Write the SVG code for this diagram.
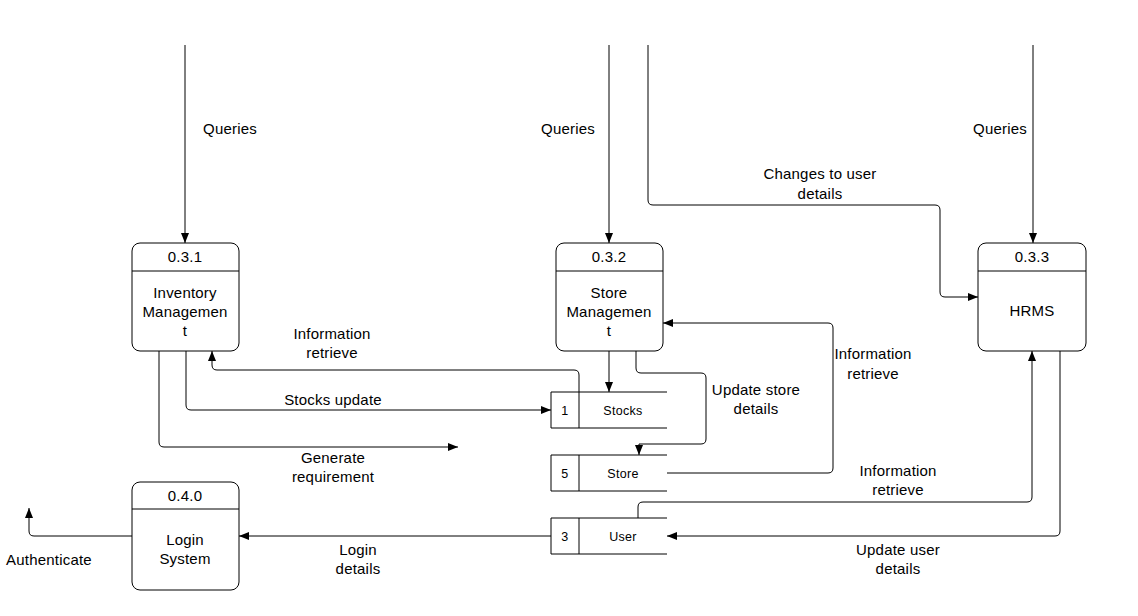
<svg xmlns="http://www.w3.org/2000/svg" width="1138" height="616" viewBox="0 0 1138 616">
<style>
text{font-family:"Liberation Sans",Arial,sans-serif;font-size:15px;letter-spacing:0.2px;fill:#000;text-anchor:middle}
.s{font-size:12.5px;letter-spacing:0.3px}
.n{fill:#fff;stroke:#000;stroke-width:1}
.l{fill:none;stroke:#000;stroke-width:1}
.c{fill:none;stroke:#000;stroke-width:1;marker-end:url(#a)}
</style>
<defs>
<marker id="a" viewBox="0 0 10 8" refX="10" refY="4" markerWidth="10" markerHeight="8" markerUnits="userSpaceOnUse" orient="auto">
<path d="M0,0 L10,4 L0,8 Z" fill="#000"/>
</marker>
</defs>
<rect width="1138" height="616" fill="#fff"/>
<g id="connectors">
<path class="c" d="M185,45 V243"/>
<path class="c" d="M609,45 V243"/>
<path class="c" d="M1033,45 V243"/>
<path class="c" d="M648,45 V200 Q648,205 653,205 H935 Q940,205 940,210 V292 Q940,297 945,297 H978"/>
<path class="c" d="M579,392 V375 Q579,370 574,370 H217 Q212,370 212,365 V351"/>
<path class="c" d="M186,351 V405 Q186,410 191,410 H551"/>
<path class="c" d="M159,351 V442 Q159,447 164,447 H458"/>
<path class="c" d="M609,351 V392"/>
<path class="c" d="M636,351 V368 Q636,373 641,373 H701 Q706,373 706,378 V439 Q706,444 701,444 H639 V455"/>
<path class="c" d="M667,473 H828 Q833,473 833,468 V328 Q833,323 828,323 H663"/>
<path class="c" d="M638,518 V507 Q638,502 643,502 H1027 Q1032,502 1032,497 V351"/>
<path class="c" d="M1060,351 V531 Q1060,536 1055,536 H667"/>
<path class="c" d="M551,536 H239"/>
<path class="c" d="M132,536 H34 Q29,536 29,531 V508"/>
</g>
<g id="labels">
<text x="230" y="134">Queries</text>
<text x="568" y="134">Queries</text>
<text x="1000" y="134">Queries</text>
<text x="820" y="179">Changes to user</text>
<text x="820" y="199">details</text>
<text x="332" y="339">Information</text>
<text x="332" y="358">retrieve</text>
<text x="333" y="405">Stocks update</text>
<text x="333" y="463">Generate</text>
<text x="333" y="482">requirement</text>
<text x="756" y="395">Update store</text>
<text x="756" y="414">details</text>
<text x="873" y="359">Information</text>
<text x="873" y="379">retrieve</text>
<text x="898" y="476">Information</text>
<text x="898" y="495">retrieve</text>
<text x="898" y="555">Update user</text>
<text x="898" y="574">details</text>
<text x="358" y="555">Login</text>
<text x="358" y="574">details</text>
<text x="49" y="565">Authenticate</text>
</g>
<g id="node-031">
<rect class="n" x="132" y="243" width="107" height="108" rx="8"/>
<line class="l" x1="132" y1="271" x2="239" y2="271"/>
<text x="185" y="262">0.3.1</text>
<text x="185" y="298">Inventory</text>
<text x="185" y="317">Managemen</text>
<text x="185" y="336">t</text>
</g>
<g id="node-032">
<rect class="n" x="556" y="243" width="107" height="108" rx="8"/>
<line class="l" x1="556" y1="271" x2="663" y2="271"/>
<text x="609" y="262">0.3.2</text>
<text x="609" y="298">Store</text>
<text x="609" y="317">Managemen</text>
<text x="609" y="336">t</text>
</g>
<g id="node-033">
<rect class="n" x="978" y="243" width="108" height="108" rx="8"/>
<line class="l" x1="978" y1="271" x2="1086" y2="271"/>
<text x="1032" y="262">0.3.3</text>
<text x="1032" y="316">HRMS</text>
</g>
<g id="node-040">
<rect class="n" x="132" y="482" width="107" height="108" rx="8"/>
<line class="l" x1="132" y1="509" x2="239" y2="509"/>
<text x="185" y="501">0.4.0</text>
<text x="185" y="545">Login</text>
<text x="185" y="564">System</text>
</g>
<g id="store-stocks">
<path class="l" d="M667,392 H551 V428 H667 M579,392 V428"/>
<text class="s" x="565" y="415">1</text>
<text class="s" x="623" y="415">Stocks</text>
</g>
<g id="store-store">
<path class="l" d="M667,455 H551 V491 H667 M579,455 V491"/>
<text class="s" x="565" y="478">5</text>
<text class="s" x="623" y="478">Store</text>
</g>
<g id="store-user">
<path class="l" d="M667,518 H551 V554 H667 M579,518 V554"/>
<text class="s" x="565" y="541">3</text>
<text class="s" x="623" y="541">User</text>
</g>
</svg>
